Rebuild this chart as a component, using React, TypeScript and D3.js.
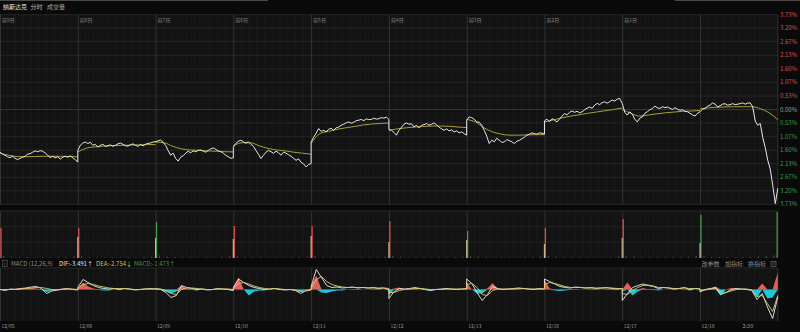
import React from 'react';
import * as d3 from 'd3';

const W = 800;
const H = 332;

const DATES = ['12/05', '12/06', '12/09', '12/10', '12/11', '12/12', '12/13', '12/16', '12/17', '12/18'];
const DAY_TAGS = ['前9日', '前8日', '前7日', '前6日', '前5日', '前4日', '前3日', '前2日', '前1日', ''];
const PCT_TICKS = [3.73, 3.2, 2.67, 2.13, 1.6, 1.07, 0.53, 0, -0.53, -1.07, -1.6, -2.13, -2.67, -3.2, -3.73];
const TIME_LABEL = { label: '2:30', dayPos: 9.615 };

// percent change, per day
const price1 = [-1.67,-1.76,-1.80,-1.86,-1.89,-1.84,-1.92,-1.97,-1.92,-1.88,-1.84,-1.76,-1.74,-1.68,-1.63,-1.66,-1.62,-1.64,-1.71,-1.80,-1.89,-1.84,-1.90,-1.86,-1.95,-1.88,-1.84,-1.88,-1.82,-1.90,-1.97,-2.07];
const price2 = [-1.61,-1.41,-1.32,-1.28,-1.34,-1.29,-1.41,-1.37,-1.48,-1.41,-1.37,-1.45,-1.43,-1.39,-1.45,-1.41,-1.35,-1.32,-1.37,-1.43,-1.44,-1.39,-1.35,-1.41,-1.45,-1.38,-1.43,-1.37,-1.33,-1.32,-1.28,-1.26];
const price3 = [-1.28,-1.23,-1.20,-1.29,-1.41,-1.61,-1.80,-1.72,-1.92,-2.03,-1.88,-1.82,-1.72,-1.64,-1.70,-1.63,-1.66,-1.61,-1.59,-1.64,-1.68,-1.61,-1.55,-1.51,-1.57,-1.63,-1.66,-1.72,-1.80,-1.86,-1.92,-1.90];
const price4 = [-1.48,-1.33,-1.25,-1.21,-1.27,-1.33,-1.27,-1.37,-1.45,-1.61,-1.76,-1.93,-1.80,-1.68,-1.61,-1.66,-1.72,-1.64,-1.70,-1.80,-1.68,-1.72,-1.78,-1.84,-1.92,-2.00,-1.94,-2.08,-2.14,-2.26,-2.16,-2.13];
const price5 = [-1.28,-1.09,-0.93,-0.75,-0.86,-0.82,-0.88,-0.78,-0.74,-0.82,-0.72,-0.69,-0.62,-0.58,-0.52,-0.49,-0.54,-0.50,-0.44,-0.42,-0.39,-0.44,-0.37,-0.40,-0.39,-0.34,-0.38,-0.36,-0.32,-0.34,-0.30,-0.39];
const price6 = [-0.79,-0.82,-0.90,-1.01,-0.82,-0.70,-0.58,-0.53,-0.58,-0.56,-0.69,-0.62,-0.72,-0.62,-0.60,-0.55,-0.62,-0.58,-0.53,-0.60,-0.70,-0.76,-0.82,-0.76,-0.84,-0.80,-0.88,-0.84,-0.92,-0.88,-0.95,-1.01];
const price7 = [-0.42,-0.29,-0.32,-0.38,-0.49,-0.50,-0.62,-0.82,-1.05,-1.34,-1.21,-1.27,-1.13,-1.21,-1.29,-1.28,-1.18,-1.23,-1.27,-1.34,-1.25,-1.21,-1.15,-1.09,-1.01,-0.97,-0.92,-0.95,-0.97,-0.92,-0.93,-0.97];
const price8 = [-0.45,-0.38,-0.48,-0.36,-0.42,-0.49,-0.38,-0.26,-0.16,-0.21,-0.11,-0.06,-0.11,-0.07,-0.13,-0.09,-0.01,0.05,0.10,0.05,0.17,0.24,0.19,0.27,0.30,0.25,0.31,0.37,0.33,0.41,0.43,0.24];
const price9 = [0.24,-0.11,-0.22,-0.09,-0.19,-0.38,-0.49,-0.34,-0.29,-0.15,-0.09,-0.01,0.04,0.13,0.07,0.04,0.11,0.07,0.10,0.05,0.00,0.07,0.01,-0.03,-0.01,-0.07,-0.09,-0.15,-0.21,-0.26,-0.15,-0.09];
const price10 = [-0.09,0.01,0.04,0.13,0.17,0.26,0.21,0.10,0.15,0.21,0.23,0.17,0.19,0.23,0.19,0.21,0.23,0.26,0.21,0.25,0.26,0.10,-0.45,-0.62,-0.55,-1.10,-1.50,-2.00,-2.35,-3.00,-3.70,-3.10];
const PRICE = [price1, price2, price3, price4, price5, price6, price7, price8, price9, price10];

const avg1 = [-1.72,-1.80,-1.85,-1.86,-1.85,-1.84,-1.84,-1.84,-1.85,-1.86];
const avg2 = [-1.67,-1.52,-1.47,-1.44,-1.42,-1.41,-1.40,-1.39,-1.38,-1.38];
const avg3 = [-1.28,-1.31,-1.45,-1.55,-1.59,-1.61,-1.63,-1.64,-1.66,-1.67];
const avg4 = [-1.43,-1.31,-1.31,-1.43,-1.53,-1.59,-1.63,-1.68,-1.72,-1.76];
const avg5 = [-1.34,-0.95,-0.86,-0.78,-0.72,-0.67,-0.61,-0.57,-0.55,-0.53];
const avg6 = [-0.82,-0.76,-0.72,-0.69,-0.67,-0.65,-0.65,-0.66,-0.69,-0.71];
const avg7 = [-0.39,-0.49,-0.72,-0.88,-0.97,-1.01,-1.01,-1.00,-0.99,-0.99];
const avg8 = [-0.49,-0.41,-0.33,-0.26,-0.21,-0.15,-0.10,-0.05,0.00,0.06];
const avg9 = [0.00,-0.15,-0.26,-0.22,-0.17,-0.13,-0.10,-0.07,-0.06,-0.04];
const avg10 = [0.03,0.07,0.09,0.10,0.11,0.11,0.11,0.03,-0.13,-0.40];
const AVG = [avg1, avg2, avg3, avg4, avg5, avg6, avg7, avg8, avg9, avg10];

// volume (relative units)
const openVol = [30, 30, 36, 32, 32, 37, 27, 30, 39, 43];
const openUp = [true, true, false, true, true, true, false, true, true, false];
const closeVol = [21, 20, 19, 22, 16, 18, 14, 20, 15, 46];
const minorVol = [
  [2.2,1.2,0.8,1.0,0.6,0.9,0.7,0.8,1.1,1.6],
  [2.0,1.0,0.9,0.7,0.8,0.6,0.9,0.7,1.0,1.5],
  [2.6,1.4,1.0,0.8,0.9,0.7,0.8,0.9,1.2,1.8],
  [2.1,1.1,0.8,0.9,0.7,0.8,0.6,0.9,1.0,1.4],
  [2.4,1.3,0.9,0.8,0.6,0.7,0.8,0.7,0.9,1.3],
  [2.3,1.2,0.7,0.9,0.8,0.6,0.7,0.8,1.0,1.5],
  [2.0,1.5,1.1,0.8,0.9,0.7,0.8,0.9,1.1,1.6],
  [2.2,1.3,0.9,1.0,0.7,0.8,0.7,0.8,1.0,1.7],
  [2.5,1.6,1.0,0.9,0.8,0.7,0.9,0.8,1.2,1.9],
  [2.4,1.4,1.0,0.8,0.7,0.9,1.2,1.6,2.0,2.6],
];

// MACD (12,26,9)
const dif = [
  [0,-0.5,0.25,0,0.5,0.75,1.25,1.5,0.5,-2,-0.75,-0.25,0.25,0.5,0,-0.25],
  [1,5,3.5,2,1,0.5,0.25,0.5,0,0.5,0.25,-0.25,0,0.25,0.5,0.25],
  [0.5,0,-1.5,-4,-3,2,1,0.5,0,0.25,-0.25,0,0.5,0.25,0,-0.5],
  [1,5.25,3.5,2,1,0.5,0,0.25,0.5,0,-0.25,0,-0.5,-2,-0.5,0],
  [1.5,10,6,2,1,1.25,0.75,1,1.25,0.75,1,0.75,1,0.5,0.75,0],
  [-4.5,-1,0.5,0.25,0.5,1,0.5,0,-0.5,0,0.25,0.5,0.25,0,0.25,0.5],
  [5.25,3,-1.5,-5.5,-2.5,1.5,0.5,0,0.25,0.5,0.75,0.5,0.25,0,0.5,0.25],
  [5.25,4,2.75,1.5,1,0.75,1.25,1,0.75,1,0.5,0.75,1,0.5,0.25,0.5],
  [-5.5,-2,1,2,2.75,2,1.5,0.5,1,0.75,0.25,0.5,1,0,0.5,0.25],
  [-1.25,0,0.5,1,-2.5,-1.5,0,0.5,0.25,0,-0.5,-5,-2,-8.75,-14.5,-3.75],
];
const dea = [
  [0,0,0,0,0.25,0.5,0.75,1,1,0.5,0,-0.25,0,0.25,0.25,0],
  [0.5,2.5,3,2.5,1.75,1.25,0.75,0.5,0.5,0.5,0.25,0,0,0.25,0.25,0.25],
  [0.25,0.25,-0.5,-2,-2.5,0,0.75,0.75,0.5,0.25,0,0,0.25,0.25,0.25,0],
  [0.5,3,3.5,2.75,1.75,1,0.5,0.25,0.5,0.25,0,0,-0.25,-1,-0.75,-0.25],
  [0.5,5,6.5,4,2.5,1.75,1.25,1,1,1,1,0.75,0.75,0.75,0.75,0.5],
  [-1.5,-1.5,-0.5,0,0.25,0.5,0.5,0.25,0,0,0,0.25,0.25,0.25,0.25,0.25],
  [2.5,3,1,-2.5,-3,-0.5,0.25,0.25,0.25,0.25,0.5,0.5,0.25,0.25,0.25,0.25],
  [2.5,3.5,3,2.25,1.5,1,1,1,0.75,0.75,0.75,0.75,0.75,0.75,0.5,0.5],
  [-2,-2.5,-0.5,1,2,2.25,1.75,1,1,0.75,0.5,0.5,0.75,0.5,0.5,0.25],
  [-0.5,-0.25,0.25,0.5,-1,-1.5,-0.75,0,0.25,0.25,-0.25,-3.5,-3,-7,-11,-3],
];
const hist = [
  [0,0.25,0.25,0.5,0.5,0.5,0.75,0.5,-0.25,-1.25,-0.5,-0.25,0.25,0.25,0,-0.25],
  [0.5,3.5,1.5,0.5,-0.25,-0.5,-0.5,0,-0.25,0,0,-0.25,0,0,0.25,0],
  [0.5,-0.25,-1,-2,-1,2,0.5,-0.25,-0.5,0,-0.25,0,0.25,0,-0.25,-0.5],
  [1,6,0,-3,-1,-0.5,-0.5,0,0,-0.25,-0.25,0,-0.5,-1.25,0.25,0.25],
  [2,7,-1.5,-1.75,-1,-0.5,-0.5,0,0.25,-0.25,0,0,0.25,-0.25,0,-0.5],
  [-3,0.5,1,0.25,0.25,0.5,0,-0.25,-0.5,-0.25,0.25,0.25,0,-0.25,0,0.25],
  [3.5,0,-2,-2,0.5,3.25,0.25,-0.25,0,0.25,0.25,0,0,-0.25,0.25,0],
  [5,0.5,-0.5,-0.75,-0.5,-0.25,0.25,0,0,0.25,-0.25,0,0.25,-0.25,-0.25,0],
  [-1,3.5,-3,-1,0.75,-0.25,-0.25,-0.5,0,0,-0.25,0,0.25,-0.5,0,0],
  [-0.75,0.25,0.5,1.5,-3,0,0.75,0.5,0,-0.25,-0.25,-4,3,-4.5,-4,8.5],
];

const FONT = '"Noto Sans CJK SC", "Noto Sans", sans-serif';
const RED = '#d9514e';
const GREEN = '#3c9f49';

type Pt = { t: number; v: number };
const toPts = (days: number[][]): Pt[][] =>
  days.map((arr, d) => arr.map((v, i) => ({ t: d + i / (arr.length - 1), v })));

export default function App() {
  const PLOT_R = 777.8;
  const x = d3.scaleLinear().domain([0, 10]).range([0, PLOT_R]);
  const yP = d3.scaleLinear().domain([-3.73, 3.73]).range([204.3, 14.7]);
  const yV = d3.scaleLinear().domain([0, 46]).range([258, 212]);
  const yM = d3.scaleLinear().domain([-15.75, 10.75]).range([321, 268]);

  const pricePts = toPts(PRICE).flat();
  const avgPts = toPts(AVG);
  const difPts = toPts(dif).flat();
  const deaPts = toPts(dea).flat();
  const histPts = toPts(hist).flat();

  const line = (ys: d3.ScaleLinear<number, number>) =>
    d3.line<Pt>().x((p) => x(p.t)).y((p) => ys(p.v));
  const smooth = d3.line<Pt>().x((p) => x(p.t)).y((p) => yP(p.v)).curve(d3.curveMonotoneX);
  const posArea = d3.area<Pt>().x((p) => x(p.t)).y0(yM(0)).y1((p) => yM(Math.max(0, p.v)));
  const negArea = d3.area<Pt>().x((p) => x(p.t)).y0(yM(0)).y1((p) => yM(Math.min(0, p.v)));

  const days = d3.range(10);
  const minorXs: number[] = [];
  days.forEach((d) => d3.range(1, 10).forEach((k) => minorXs.push(x(d + k / 10))));
  const dayXs = days.map((d) => x(d));

  const panels = [
    { y0: 14.7, y1: 204.8 },
    { y0: 211, y1: 258 },
    { y0: 268, y1: 321 },
  ];

  const pctColor = (v: number) => (v > 0 ? RED : v < 0 ? GREEN : '#a0a0a0');

  return (
    <svg width={W} height={H} style={{ position: 'absolute', left: 0, top: 0, background: '#0a0a0a' }} fontFamily={FONT}>
      <rect x={0} y={0} width={W} height={H} fill="#0a0a0a" />
      <rect x={0} y={0} width={268} height={1} fill="#4a4a4a" />
      <rect x={675} y={0} width={125} height={1} fill="#4a4a4a" />

      {/* header */}
      <text x={3} y={9.4} fontSize={6} fill="#e0e0e0">纳斯达克</text>
      <text x={30.5} y={9.4} fontSize={6} fill="#bdbdbd">分时</text>
      <text x={47} y={9.4} fontSize={6} fill="#a8a8a8">成交量</text>

      {/* panel backgrounds and grids */}
      {panels.map((p, i) => (
        <g key={'pn' + i}>
          <rect x={0} y={p.y0} width={PLOT_R} height={p.y1 - p.y0} fill="#131313" />
          {minorXs.map((mx, j) => (
            <line key={j} x1={mx} x2={mx} y1={p.y0} y2={p.y1} stroke="#1c1c1c" strokeWidth={0.8} />
          ))}
        </g>
      ))}
      {PCT_TICKS.map((v, i) => (
        <line key={'hg' + i} x1={0} x2={PLOT_R} y1={yP(v)} y2={yP(v)} stroke={v === 0 ? '#353535' : '#262626'} strokeWidth={1} />
      ))}
      {[226.7, 242.3].map((yy, i) => (
        <line key={'vg' + i} x1={0} x2={PLOT_R} y1={yy} y2={yy} stroke="#232323" />
      ))}
      <line x1={0} x2={PLOT_R} y1={211} y2={211} stroke="#262626" />
      <line x1={0} x2={PLOT_R} y1={268} y2={268} stroke="#262626" />
      <line x1={0} x2={PLOT_R} y1={yM(0)} y2={yM(0)} stroke="#2e2e2e" />
      {panels.map((p, i) =>
        dayXs.map((dx, j) => (
          <line key={'dl' + i + '-' + j} x1={dx + 0.5} x2={dx + 0.5} y1={p.y0} y2={p.y1} stroke="#333" strokeWidth={1} />
        ))
      )}
      {panels.map((p, i) => (
        <line key={'rb' + i} x1={PLOT_R} x2={PLOT_R} y1={p.y0} y2={p.y1} stroke="#333" />
      ))}

      {/* day tags */}
      {DAY_TAGS.map((t, i) => (
        <text key={'tag' + i} x={x(i) + 2} y={21.8} fontSize={5} fill="#8a8a8a">{t}</text>
      ))}

      {/* right pct axis */}
      {PCT_TICKS.map((v, i) => (
        <text key={'pt' + i} x={780} y={yP(v) + 2.1} fontSize={6} fill={pctColor(v)}>
          {Math.abs(v).toFixed(2) + '%'}
        </text>
      ))}

      {/* avg lines */}
      {avgPts.map((pts, i) => (
        <path key={'avg' + i} d={smooth(pts) || ''} fill="none" stroke="#a89f36" strokeWidth={1} />
      ))}
      {/* price line */}
      <path d={line(yP)(pricePts) || ''} fill="none" stroke="#e8e8e8" strokeWidth={1} strokeLinejoin="round" />

      {/* volume */}
      {minorVol.map((arr, d) =>
        arr.map((v, j) => {
          const t = d + (j + 0.5) / arr.length;
          const pi = Math.round(((j + 0.5) / arr.length) * (PRICE[d].length - 1));
          const up = pi > 0 ? PRICE[d][pi] >= PRICE[d][pi - 1] : true;
          return (
            <rect key={'mv' + d + '-' + j} x={x(t) - 0.5} y={yV(v)} width={1} height={yV(0) - yV(v)} fill={up ? '#7a3a38' : '#2f6a36'} />
          );
        })
      )}
      {openVol.map((v, d) => (
        <rect key={'ov' + d} x={x(d) + 0.3} y={yV(v)} width={1.3} height={yV(0) - yV(v)} fill={openUp[d] ? RED : GREEN} />
      ))}
      {closeVol.map((v, d) => (
        <rect key={'cv' + d} x={x(d + 1) - (d === 9 ? 1.3 : 0.6)} y={yV(v)} width={1.2} height={yV(0) - yV(v)} fill={d === 9 ? GREEN : '#c9b38e'} />
      ))}

      {/* MACD header */}
      <rect x={2.7} y={260.5} width={4.5} height={6} fill="none" stroke="#666" strokeWidth={0.6} />
      <text x={3.6} y={265.5} fontSize={4.5} fill="#888">?</text>
      <text x={11} y={266} fontSize={6} fill="#8c8c8c">MACD (12,26,9)</text>
      <text x={59} y={266} fontSize={6} fill="#e6e6e6">DIF:-3.491↑</text>
      <text x={96} y={266} fontSize={6} fill="#d8c24a">DEA:-2.754↓</text>
      <text x={134} y={266} fontSize={6} fill={GREEN}>MACD:-1.473↑</text>
      <text x={701.5} y={266} fontSize={6} fill="#8a8a8a">改参数</text>
      <text x={725} y={266} fontSize={6} fill="#8a8a8a">加指标</text>
      <text x={748} y={266} fontSize={6} fill="#8a8a8a">换指标</text>
      <rect x={771} y={261.3} width={5} height={5} fill="none" stroke="#777" strokeWidth={0.6} />
      <path d="M772,262.3 L775,265.3 M775,262.3 L772,265.3" stroke="#888" strokeWidth={0.5} />

      {/* MACD plot */}
      <path d={posArea(histPts) || ''} fill="#e0605c" />
      <path d={negArea(histPts) || ''} fill="#1fc6d6" />
      <path d={line(yM)(difPts) || ''} fill="none" stroke="#ececec" strokeWidth={0.9} />
      <path d={line(yM)(deaPts) || ''} fill="none" stroke="#d9cc6a" strokeWidth={0.9} />

      {/* date axis */}
      {DATES.map((t, i) => (
        <text key={'dt' + i} x={x(i) + 1.5} y={327.8} fontSize={5} fill="#9a9a9a">{t}</text>
      ))}
      <text x={x(TIME_LABEL.dayPos)} y={327.8} fontSize={5.5} fill="#9a9a9a" textAnchor="middle">{TIME_LABEL.label}</text>
    </svg>
  );
}
